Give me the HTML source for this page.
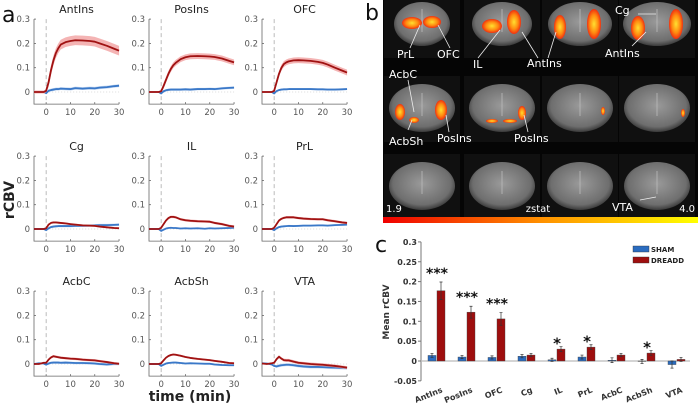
<!DOCTYPE html>
<html><head><meta charset="utf-8"><style>
body{margin:0;background:#fff;width:698px;height:405px;overflow:hidden;font-family:"Liberation Sans","DejaVu Sans",sans-serif}
svg{position:absolute;left:0;top:0}
text{font-family:"DejaVu Sans","Liberation Sans",sans-serif}
</style></head><body>
<svg id="fig" width="698" height="405" viewBox="0 0 698 405">
<text x="2" y="22" font-size="22" fill="#111">a</text>
<text x="365" y="20" font-size="22" fill="#111">b</text>
<text x="375" y="252" font-size="22" fill="#111">c</text>
<text x="14" y="200" font-size="14" font-weight="bold" fill="#222" transform="rotate(-90 14 200)" text-anchor="middle">rCBV</text>
<text x="190" y="401" font-size="14" font-weight="bold" fill="#222" text-anchor="middle">time (min)</text>
<g id="ga"></g>
<g id="gb">
<rect x="383" y="0" width="315" height="217" fill="#050505"/>
</g>
<g id="gc"></g>
</svg>
<script>
// ---------- Panel a data ----------
const times=[-5,-3,-1,0,1,2,3,4,5,6,8,10,12,15,18,20,22,25,28,30];
const regions=["AntIns","PosIns","OFC","Cg","IL","PrL","AcbC","AcbSh","VTA"];
const redAntIns=[0,0,0,0.005,0.04,0.09,0.13,0.16,0.18,0.195,0.205,0.21,0.213,0.212,0.21,0.207,0.2,0.19,0.178,0.17];
const blueAntIns=[0,0,0,-0.005,0.005,0.008,0.01,0.012,0.012,0.014,0.013,0.012,0.016,0.014,0.016,0.015,0.018,0.02,0.024,0.026];
const redPosIns=[0,0,0,0.003,0.025,0.05,0.075,0.095,0.11,0.12,0.135,0.143,0.147,0.148,0.147,0.146,0.144,0.138,0.128,0.122];
const bluePosIns=[0,0,0,-0.006,0.003,0.007,0.009,0.01,0.01,0.01,0.01,0.011,0.01,0.012,0.012,0.013,0.012,0.015,0.017,0.018];
const redOFC=[0,0,0,0.005,0.04,0.075,0.1,0.115,0.122,0.126,0.13,0.131,0.13,0.128,0.124,0.12,0.113,0.1,0.088,0.08];
const blueOFC=[0,0,0,-0.006,0.004,0.008,0.01,0.011,0.011,0.012,0.012,0.012,0.012,0.012,0.011,0.011,0.01,0.01,0.011,0.012];
const redCg=[0,0,0,0.003,0.018,0.025,0.027,0.027,0.026,0.025,0.023,0.02,0.018,0.015,0.014,0.013,0.01,0.007,0.004,0.003];
const blueCg=[0,0,0,-0.005,0.003,0.008,0.01,0.011,0.012,0.012,0.012,0.012,0.013,0.013,0.014,0.015,0.016,0.016,0.017,0.018];
const redIL=[0,0,0,0.005,0.02,0.035,0.045,0.05,0.05,0.048,0.04,0.036,0.034,0.032,0.031,0.03,0.025,0.02,0.013,0.01];
const blueIL=[0,0,0,-0.008,-0.003,0.002,0.004,0.005,0.004,0.004,0.002,0.003,0.002,0.003,0.001,0.003,0.002,0.003,0.004,0.005];
const redPrL=[0,0,0,0.005,0.02,0.035,0.042,0.046,0.048,0.048,0.048,0.045,0.043,0.041,0.04,0.04,0.036,0.032,0.027,0.025];
const bluePrL=[0,0,0,-0.005,0.003,0.008,0.01,0.011,0.012,0.013,0.012,0.013,0.014,0.014,0.015,0.015,0.014,0.016,0.017,0.018];
const redAcbC=[0,0,0.005,0.005,0.018,0.027,0.032,0.03,0.028,0.026,0.024,0.022,0.021,0.018,0.016,0.015,0.012,0.008,0.003,0.001];
const blueAcbC=[0,0.003,0.002,-0.003,0.002,0.005,0.006,0.006,0.006,0.005,0.006,0.005,0.004,0.004,0.003,0.002,0,-0.002,0,0];
const redAcbSh=[0,0,0,0.003,0.015,0.026,0.033,0.037,0.039,0.038,0.034,0.029,0.025,0.021,0.018,0.016,0.013,0.009,0.004,0.003];
const blueAcbSh=[0,0,0,-0.008,-0.003,0.002,0.004,0.005,0.006,0.006,0.004,0.002,0.003,0.002,0.001,0.001,-0.002,-0.004,-0.005,-0.005];
const redVTA=[0.002,0,0.003,0.005,0.02,0.03,0.022,0.016,0.015,0.015,0.01,0.005,0.003,0,-0.002,-0.003,-0.005,-0.008,-0.012,-0.015];
const blueVTA=[0.003,0.002,-0.002,-0.008,-0.01,-0.007,-0.005,-0.004,-0.003,-0.003,-0.005,-0.008,-0.01,-0.012,-0.012,-0.013,-0.014,-0.015,-0.016,-0.017];
const redBand=[0.02,0.012,0.012,0.004,0.005,0.005,0.005,0.004,0.006];
const blueBand=[0.006,0.005,0.004,0.005,0.003,0.004,0.005,0.004,0.006];
const yTicksA=[0,0.1,0.2,0.3];
const xTicksA=[0,10,20,30];
// ---------- Panel c data ----------
const barRegions=["AntIns","PosIns","OFC","Cg","IL","PrL","AcbC","AcbSh","VTA"];
const shamVals=[0.014,0.010,0.009,0.012,0.003,0.010,0.002,-0.001,-0.009];
const shamErr=[0.005,0.004,0.004,0.004,0.004,0.005,0.006,0.005,0.009];
const dreaddVals=[0.177,0.123,0.106,0.015,0.030,0.035,0.015,0.020,0.004];
const dreaddErr=[0.022,0.015,0.016,0.004,0.006,0.006,0.004,0.006,0.005];
const stars=["***","***","***","","*","*","","*",""];
const yTicksC=[-0.05,0,0.05,0.1,0.15,0.2,0.25,0.3];
const yTickLabelsC=["-0.05","0","0.05","0.1","0.15","0.2","0.25","0.3"];

const NS="http://www.w3.org/2000/svg";
function mk(tag,attrs,parent,txt){const e=document.createElementNS(NS,tag);for(const k in attrs)e.setAttribute(k,attrs[k]);if(txt!==undefined)e.textContent=txt;parent.appendChild(e);return e;}

// ---------- draw panel a ----------
const reds=[redAntIns,redPosIns,redOFC,redCg,redIL,redPrL,redAcbC,redAcbSh,redVTA];
const blues=[blueAntIns,bluePosIns,blueOFC,blueCg,blueIL,bluePrL,blueAcbC,blueAcbSh,blueVTA];
const colLeft=[34,149,262], rowZero=[92,229,364];
const ga=document.getElementById('ga');
regions.forEach((name,i)=>{
  const L=colLeft[i%3], Y0=rowZero[Math.floor(i/3)];
  const xs=t=>L+(t+5)*2.43, ys=v=>Y0-v*243;
  const g=mk('g',{},ga);
  
  
  const t=mk('text',{x:xs(12.5),y:ys(0.3)-6,'font-size':11,'text-anchor':'middle',fill:'#222'},g,name);
  
  
  const ax=mk('path',{d:`M${L} ${ys(0.3)}V${ys(-0.05)}H${xs(30)}`,stroke:'#666','stroke-width':0.8,fill:'none'},g);
  
  
  mk('line',{x1:xs(0),x2:xs(0),y1:ys(0.3),y2:ys(-0.05),stroke:'#aaa','stroke-dasharray':'4,3','stroke-width':0.8},g);
  mk('line',{x1:xs(0),x2:xs(30),y1:ys(0),y2:ys(0),stroke:'#bbb','stroke-dasharray':'1,2','stroke-width':0.6},g);
  yTicksA.forEach(v=>{mk('line',{x1:L,x2:L+2,y1:ys(v),y2:ys(v),stroke:'#666','stroke-width':0.8},g);
    const e=mk('text',{x:L-4,y:ys(v)+3,'font-size':8.5,'text-anchor':'end',fill:'#555'},g,String(v));
    
    });
  xTicksA.forEach(v=>{mk('line',{x1:xs(v),x2:xs(v),y1:ys(-0.05),y2:ys(-0.05)-2,stroke:'#666','stroke-width':0.8},g);
    const e=mk('text',{x:xs(v),y:ys(-0.05)+11,'font-size':8.5,'text-anchor':'middle',fill:'#555'},g,String(v));
    
    });
  [[blues[i],blueBand[i],'#b9d0ee','#3a78c8','sham'],[reds[i],redBand[i],'#f2a7a7','#a01212','dreadd']].forEach(([arr,b,fc,lc,nm])=>{
    let up=arr.map((v,k)=>`${xs(times[k])},${ys(v+ (times[k]>0?b:b*0.3))}`);
    let dn=arr.map((v,k)=>`${xs(times[k])},${ys(v-(times[k]>0?b:b*0.3))}`).reverse();
    const band=mk('polygon',{points:up.concat(dn).join(' '),fill:fc,opacity:0.85},g);
    
    
    const ln=mk('polyline',{points:arr.map((v,k)=>`${xs(times[k])},${ys(v)}`).join(' '),fill:'none',stroke:lc,'stroke-width':1.8,'stroke-linejoin':'round'},g);
    
    
  });
});

// ---------- draw panel b (brain maps) ----------
const gb=document.getElementById('gb');
const defs=mk('defs',{},gb);
const rg=mk('radialGradient',{id:'brainG',cx:'50%',cy:'45%',r:'55%'},defs);
mk('stop',{offset:'0%','stop-color':'#9a9a9a'},rg);mk('stop',{offset:'80%','stop-color':'#6e6e6e'},rg);mk('stop',{offset:'100%','stop-color':'#3a3a3a'},rg);
const bg=mk('radialGradient',{id:'blobG',cx:'50%',cy:'50%',r:'50%'},defs);
mk('stop',{offset:'0%','stop-color':'#ffe030'},bg);mk('stop',{offset:'60%','stop-color':'#ff8a10'},bg);mk('stop',{offset:'100%','stop-color':'#f03010'},bg);
const lg=mk('linearGradient',{id:'cbar',x1:0,x2:1,y1:0,y2:0},defs);
mk('stop',{offset:'0%','stop-color':'#f00000'},lg);mk('stop',{offset:'50%','stop-color':'#ff9000'},lg);mk('stop',{offset:'100%','stop-color':'#ffff00'},lg);
const cx=[422,502,580,657], cy=[24,108,186], rr=[[28,22],[33,24],[33,24]];
for(let r=0;r<3;r++)for(let c=0;c<4;c++){
  mk('rect',{x:cx[c]-38,y:cy[r]-32,width:76,height:66,fill:'#101010'},gb);
  const e=mk('ellipse',{cx:cx[c],cy:cy[r],rx:rr[r][0]+(r==0?c*2:0),ry:rr[r][1],fill:'url(#brainG)'},gb);
  
  
  mk('path',{d:`M${cx[c]} ${cy[r]-15}V${cy[r]+8}`,stroke:'#bbb','stroke-width':0.8},gb);
}
const blobs=[[412,23,10,6],[432,22,9,6],[492,26,10,7],[514,22,7,12],[560,27,6,12],[594,24,7,15],[638,28,7,12],[676,24,7,15],
 [400,112,5,8],[441,110,6,10],[414,120,5,3],[522,113,4,7],[510,121,7,2],[492,121,6,2],[603,111,2,4],[683,113,2,4]];
blobs.forEach(b=>{const e=mk('ellipse',{cx:b[0],cy:b[1],rx:b[2],ry:b[3],fill:'url(#blobG)'},gb);
  
  });
const leaders=[[410,48,420,25],[450,48,438,25],[478,58,500,30],[538,58,522,32],[548,58,556,32],[632,46,646,32],[638,14,656,14],[408,80,414,112],[408,130,412,120],[449,132,446,115],[528,132,524,115],[640,200,656,197]];
leaders.forEach(l=>mk('line',{x1:l[0],y1:l[1],x2:l[2],y2:l[3],stroke:'#eee','stroke-width':0.8},gb));
const blabels=[["PrL",397,58],["OFC",437,58],["IL",473,68],["AntIns",527,67],["Cg",615,14],["AntIns",605,57],["AcbC",389,78],["AcbSh",389,145],["PosIns",437,142],["PosIns",514,142],["VTA",612,211]];
blabels.forEach(l=>{const e=mk('text',{x:l[1],y:l[2],'font-size':11,fill:'#fff'},gb,l[0]);
  
  });
[["1.9",386,212,'start'],["zstat",538,212,'middle'],["4.0",695,212,'end']].forEach(l=>{const e=mk('text',{x:l[1],y:l[2],'font-size':10,fill:'#fff','text-anchor':l[3]},gb,l[0]);
  
  });
const cb=mk('rect',{x:383,y:217,width:315,height:6,fill:'url(#cbar)'},gb);



// ---------- draw panel c ----------
const gc=document.getElementById('gc');
const cy0=361, axX=421, xr=690;
const yc=v=>cy0-v*397;
const xc=i=>437+i*30;
mk('path',{d:`M${axX} ${yc(0.3)}V${yc(-0.05)}`,stroke:'#777','stroke-width':1},gc);
mk('line',{x1:axX,x2:xr,y1:yc(0),y2:yc(0),stroke:'#bbb','stroke-width':1.2},gc);
yTicksC.forEach((v,k)=>{mk('line',{x1:axX-3,x2:axX,y1:yc(v),y2:yc(v),stroke:'#777'},gc);
  const e=mk('text',{x:axX-4,y:yc(v)+3,'font-size':8,'font-weight':'bold','text-anchor':'end',fill:'#333'},gc,yTickLabelsC[k]);
  
  });
const yt=mk('text',{x:389,y:312,'font-size':9,'font-weight':'bold',fill:'#333','text-anchor':'middle',transform:'rotate(-90 389 312)'},gc,'Mean rCBV');


barRegions.forEach((name,i)=>{
  [[shamVals,shamErr,-9,'#2a6cc0','sham'],[dreaddVals,dreaddErr,0,'#9e0e0e','dreadd']].forEach(([vals,errs,off,col,nm])=>{
    const v=vals[i],x=xc(i)+off;
    const r=mk('rect',{x:x,y:Math.min(yc(v),yc(0)),width:8,height:Math.abs(yc(v)-yc(0)),fill:col,stroke:'#444','stroke-width':0.4},gc);
    
    
    const e=errs[i];
    mk('path',{d:`M${x+4} ${yc(v+e)}V${yc(v-e)}M${x+2.5} ${yc(v+e)}H${x+5.5}M${x+2.5} ${yc(v-e)}H${x+5.5}`,stroke:'#333','stroke-width':0.7,fill:'none'},gc);
  });
  if(stars[i]){const s=mk('text',{x:xc(i),y:yc(dreaddVals[i]+dreaddErr[i])-4+(stars[i]=='*'?6:0),'font-size':stars[i]=='*'?15:14,'font-weight':'bold','text-anchor':'middle',fill:'#111'},gc,stars[i]);
    
    }
  const lt=mk('text',{x:xc(i)+6,y:392,'font-size':8,'font-weight':'bold',fill:'#333','text-anchor':'end',transform:`rotate(-22 ${xc(i)+6} 392)`},gc,name);
  
  
});
[["SHAM",'#2a6cc0',251],["DREADD",'#9e0e0e',262]].forEach(l=>{
  const g=mk('g',{},gc);
  
  
  mk('rect',{x:633,y:l[2]-5,width:16,height:6,fill:l[1],stroke:'#333','stroke-width':0.4},g);
  mk('text',{x:651,y:l[2]+1,'font-size':7,'font-weight':'bold',fill:'#222'},g,l[0]);
});
</script>
</body></html>
